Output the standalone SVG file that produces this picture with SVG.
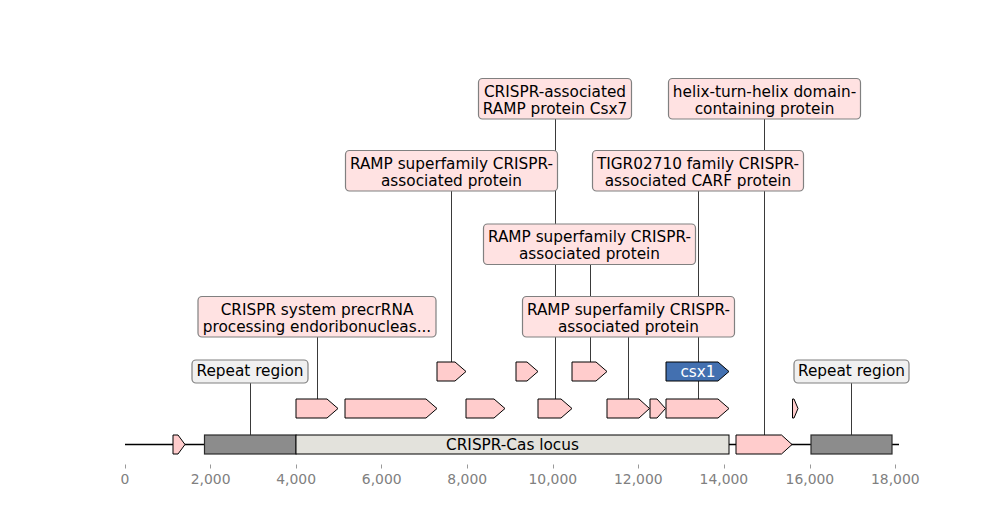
<svg xmlns="http://www.w3.org/2000/svg" width="1000" height="520" viewBox="0 0 1000 520">
<style>
text{font-family:"DejaVu Sans",Verdana,sans-serif;font-size:15.3px;fill:#000}
.tick{font-size:13.9px;fill:#808080;text-anchor:middle}
.lab{text-anchor:middle}
.gene{fill:#ffcccc;stroke:#000;stroke-width:1}
.rep{fill:#8c8c8c;stroke:#2b2b2b;stroke-width:1.2}
.locus{fill:#e3e2dc;stroke:#000;stroke-width:1}
.csx{fill:#4370b0;stroke:#000;stroke-width:1}
.pbox{fill:#ffe2e2;stroke:#808080;stroke-width:1.2}
.gbox{fill:#f0f0f0;stroke:#808080;stroke-width:1.2}
.con line{stroke:#3a3a3a;stroke-width:1}
.tk line{stroke:#999;stroke-width:1}
</style>
<rect width="1000" height="520" fill="#fff"/>
<g id="axis" class="tk">
<line x1="125.5" y1="464.5" x2="125.5" y2="468.5"/><line x1="210.5" y1="464.5" x2="210.5" y2="468.5"/><line x1="296.5" y1="464.5" x2="296.5" y2="468.5"/><line x1="381.5" y1="464.5" x2="381.5" y2="468.5"/><line x1="467.5" y1="464.5" x2="467.5" y2="468.5"/><line x1="553.5" y1="464.5" x2="553.5" y2="468.5"/><line x1="638.5" y1="464.5" x2="638.5" y2="468.5"/><line x1="724.5" y1="464.5" x2="724.5" y2="468.5"/><line x1="810.5" y1="464.5" x2="810.5" y2="468.5"/><line x1="895.5" y1="464.5" x2="895.5" y2="468.5"/>
<text class="tick" x="125" y="484">0</text><text class="tick" x="210.6" y="484">2,000</text><text class="tick" x="296.1" y="484">4,000</text><text class="tick" x="381.7" y="484">6,000</text><text class="tick" x="467.2" y="484">8,000</text><text class="tick" x="552.8" y="484">10,000</text><text class="tick" x="638.3" y="484">12,000</text><text class="tick" x="723.9" y="484">14,000</text><text class="tick" x="809.9" y="484">16,000</text><text class="tick" x="895.3" y="484">18,000</text>
</g>
<g id="connectors" class="con">
<line x1="250.5" y1="383" x2="250.5" y2="435"/>
<line x1="317.5" y1="337" x2="317.5" y2="399"/>
<line x1="451.5" y1="191" x2="451.5" y2="362"/>
<line x1="555.5" y1="119" x2="555.5" y2="399"/>
<line x1="590.5" y1="265" x2="590.5" y2="362"/>
<line x1="628.5" y1="337" x2="628.5" y2="399"/>
<line x1="698.5" y1="191" x2="698.5" y2="399"/>
<line x1="764.5" y1="119" x2="764.5" y2="435"/>
<line x1="851.5" y1="383" x2="851.5" y2="435"/>
</g>
<g id="backbone"><line x1="125" y1="444.5" x2="899" y2="444.5" stroke="#000" stroke-width="1.6"/></g>
<g id="f1"><polygon class="gene" points="173,435 178,435 185,444.5 178,454 173,454"/></g>
<g id="f2"><rect class="rep" x="204.5" y="435" width="91.5" height="19"/></g>
<g id="f3"><rect class="locus" x="296" y="435" width="433" height="19"/><text class="lab" x="512.5" y="450">CRISPR-Cas locus</text></g>
<g id="f4"><polygon class="gene" points="736,435 781.5,435 792,444.5 781.5,454 736,454"/></g>
<g id="f5"><rect class="rep" x="811" y="435" width="81" height="19"/></g>
<g id="f6"><polygon class="gene" points="296,399 327,399 338,408.5 327,418 296,418"/></g>
<g id="f7"><polygon class="gene" points="345,399 426,399 437,408.5 426,418 345,418"/></g>
<g id="f8"><polygon class="gene" points="466,399 494,399 505,408.5 494,418 466,418"/></g>
<g id="f9"><polygon class="gene" points="538,399 561,399 572,408.5 561,418 538,418"/></g>
<g id="f10"><polygon class="gene" points="607,399 639,399 649.5,408.5 639,418 607,418"/></g>
<g id="f11"><polygon class="gene" points="650,399 657,399 665.5,408.5 657,418 650,418"/></g>
<g id="f12"><polygon class="gene" points="666,399 718,399 729,408.5 718,418 666,418"/></g>
<g id="f13"><polygon class="gene" points="792.5,399 794,399 798,408.5 794,418 792.5,418"/></g>
<g id="f14"><polygon class="gene" points="437,362 455,362 466,371.5 455,381 437,381"/></g>
<g id="f15"><polygon class="gene" points="516,362 527,362 538,371.5 527,381 516,381"/></g>
<g id="f16"><polygon class="gene" points="572,362 596,362 607,371.5 596,381 572,381"/></g>
<g id="f17"><polygon class="csx" points="666,362 718,362 729,371.5 718,381 666,381"/><text class="lab" x="698" y="377" style="fill:#fff">csx1</text></g>
<g id="l1"><rect class="gbox" x="192" y="360" width="116" height="23" rx="4"/><text class="lab" x="250" y="376">Repeat region</text></g>
<g id="l2"><rect class="pbox" x="198" y="296.5" width="238" height="40.5" rx="4"/><text class="lab" x="317" y="314.5">CRISPR system precrRNA</text><text class="lab" x="317" y="331.5">processing endoribonucleas...</text></g>
<g id="l3"><rect class="pbox" x="345.5" y="150.5" width="212" height="40.5" rx="4"/><text class="lab" x="451.5" y="168.5">RAMP superfamily CRISPR-</text><text class="lab" x="451.5" y="185.5">associated protein</text></g>
<g id="l4"><rect class="pbox" x="478.5" y="78.5" width="153" height="40.5" rx="4"/><text class="lab" x="555" y="96.5">CRISPR-associated</text><text class="lab" x="555" y="113.5">RAMP protein Csx7</text></g>
<g id="l5"><rect class="pbox" x="483.5" y="224" width="212" height="40.5" rx="4"/><text class="lab" x="589.5" y="242">RAMP superfamily CRISPR-</text><text class="lab" x="589.5" y="259">associated protein</text></g>
<g id="l6"><rect class="pbox" x="522.5" y="296.5" width="212" height="40.5" rx="4"/><text class="lab" x="628.5" y="314.5">RAMP superfamily CRISPR-</text><text class="lab" x="628.5" y="331.5">associated protein</text></g>
<g id="l7"><rect class="pbox" x="592.5" y="150.5" width="211" height="40.5" rx="4"/><text class="lab" x="698" y="168.5">TIGR02710 family CRISPR-</text><text class="lab" x="698" y="185.5">associated CARF protein</text></g>
<g id="l8"><rect class="pbox" x="668.5" y="78.5" width="192" height="40.5" rx="4"/><text class="lab" x="764.5" y="96.5">helix-turn-helix domain-</text><text class="lab" x="764.5" y="113.5">containing protein</text></g>
<g id="l9"><rect class="gbox" x="794" y="360" width="115" height="23" rx="4"/><text class="lab" x="851.5" y="376">Repeat region</text></g>
</svg>
